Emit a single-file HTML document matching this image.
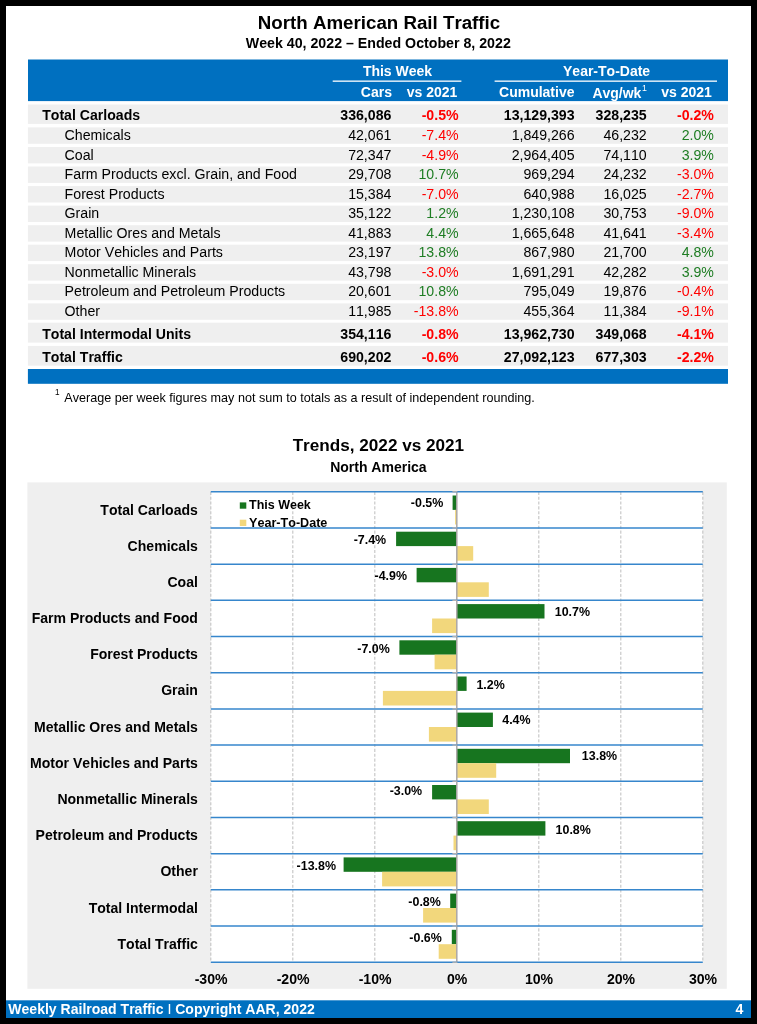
<!DOCTYPE html>
<html><head><meta charset="utf-8"><title>North American Rail Traffic</title>
<style>
html,body{margin:0;padding:0;background:#000;}
body{width:757px;height:1024px;overflow:hidden;}
svg{display:block;font-family:"Liberation Sans",Arial,Helvetica,sans-serif;font-kerning:none;}
text{fill:#000;}
.b{font-weight:bold;}
.e{text-anchor:end;}
.m{text-anchor:middle;}
.w{fill:#fff;}
.n{fill:#ff0000;}
.p{fill:#1e7d23;}
</style></head><body>
<svg width="757" height="1024" viewBox="0 0 757 1024">
<rect x="0" y="0" width="757" height="1024" fill="#000"/>
<rect x="6" y="6" width="745" height="1012" fill="#fff"/>
<text x="379.0" y="28.5" font-size="18.73" class="b m">North American Rail Traffic</text>
<text x="378.3" y="48.2" font-size="14.2" class="b m">Week 40, 2022 – Ended October 8, 2022</text>
<rect x="28.0" y="59.5" width="700.0" height="41.6" fill="#0070c0"/>
<rect x="332.7" y="80.5" width="128.7" height="1.3" fill="#fff"/>
<rect x="494.6" y="80.5" width="222.4" height="1.3" fill="#fff"/>
<text x="397.5" y="75.6" font-size="14.0" class="b m w">This Week</text>
<text x="606.6" y="75.6" font-size="14.0" class="b m w">Year-To-Date</text>
<text x="392.0" y="96.5" font-size="14.0" class="b e w">Cars</text>
<text x="457.4" y="96.5" font-size="14.0" class="b e w">vs 2021</text>
<text x="574.5" y="96.5" font-size="14.0" class="b e w">Cumulative</text>
<text x="641.4" y="97.7" font-size="14.0" class="b e w">Avg/wk</text>
<text x="642.0" y="91.1" font-size="8.8" class="w">1</text>
<text x="711.9" y="96.5" font-size="14.0" class="b e w">vs 2021</text>
<rect x="27.9" y="104.5" width="700.1" height="19.4" fill="#efefef"/>
<text x="42.2" y="120.4" font-size="14.1" class="b">Total Carloads</text>
<text x="391.4" y="120.2" font-size="14.15" class="b e">336,086</text>
<text x="458.6" y="120.2" font-size="14.15" class="b e n">-0.5%</text>
<text x="574.6" y="120.2" font-size="14.15" class="b e">13,129,393</text>
<text x="646.7" y="120.2" font-size="14.15" class="b e">328,235</text>
<text x="713.9" y="120.2" font-size="14.15" class="b e n">-0.2%</text>
<rect x="27.9" y="127.4" width="700.1" height="16.4" fill="#efefef"/>
<text x="64.6" y="139.9" font-size="14.18">Chemicals</text>
<text x="391.4" y="139.9" font-size="14.15" class="e">42,061</text>
<text x="458.6" y="139.9" font-size="14.15" class="e n">-7.4%</text>
<text x="574.6" y="139.9" font-size="14.15" class="e">1,849,266</text>
<text x="646.7" y="139.9" font-size="14.15" class="e">46,232</text>
<text x="713.9" y="139.9" font-size="14.15" class="e p">2.0%</text>
<rect x="27.9" y="147.0" width="700.1" height="16.4" fill="#efefef"/>
<text x="64.6" y="159.5" font-size="14.18">Coal</text>
<text x="391.4" y="159.5" font-size="14.15" class="e">72,347</text>
<text x="458.6" y="159.5" font-size="14.15" class="e n">-4.9%</text>
<text x="574.6" y="159.5" font-size="14.15" class="e">2,964,405</text>
<text x="646.7" y="159.5" font-size="14.15" class="e">74,110</text>
<text x="713.9" y="159.5" font-size="14.15" class="e p">3.9%</text>
<rect x="27.9" y="166.5" width="700.1" height="16.4" fill="#efefef"/>
<text x="64.6" y="179.0" font-size="14.18">Farm Products excl. Grain, and Food</text>
<text x="391.4" y="179.0" font-size="14.15" class="e">29,708</text>
<text x="458.6" y="179.0" font-size="14.15" class="e p">10.7%</text>
<text x="574.6" y="179.0" font-size="14.15" class="e">969,294</text>
<text x="646.7" y="179.0" font-size="14.15" class="e">24,232</text>
<text x="713.9" y="179.0" font-size="14.15" class="e n">-3.0%</text>
<rect x="27.9" y="186.1" width="700.1" height="16.4" fill="#efefef"/>
<text x="64.6" y="198.6" font-size="14.18">Forest Products</text>
<text x="391.4" y="198.6" font-size="14.15" class="e">15,384</text>
<text x="458.6" y="198.6" font-size="14.15" class="e n">-7.0%</text>
<text x="574.6" y="198.6" font-size="14.15" class="e">640,988</text>
<text x="646.7" y="198.6" font-size="14.15" class="e">16,025</text>
<text x="713.9" y="198.6" font-size="14.15" class="e n">-2.7%</text>
<rect x="27.9" y="205.6" width="700.1" height="16.4" fill="#efefef"/>
<text x="64.6" y="218.1" font-size="14.18">Grain</text>
<text x="391.4" y="218.1" font-size="14.15" class="e">35,122</text>
<text x="458.6" y="218.1" font-size="14.15" class="e p">1.2%</text>
<text x="574.6" y="218.1" font-size="14.15" class="e">1,230,108</text>
<text x="646.7" y="218.1" font-size="14.15" class="e">30,753</text>
<text x="713.9" y="218.1" font-size="14.15" class="e n">-9.0%</text>
<rect x="27.9" y="225.2" width="700.1" height="16.4" fill="#efefef"/>
<text x="64.6" y="237.7" font-size="14.18">Metallic Ores and Metals</text>
<text x="391.4" y="237.7" font-size="14.15" class="e">41,883</text>
<text x="458.6" y="237.7" font-size="14.15" class="e p">4.4%</text>
<text x="574.6" y="237.7" font-size="14.15" class="e">1,665,648</text>
<text x="646.7" y="237.7" font-size="14.15" class="e">41,641</text>
<text x="713.9" y="237.7" font-size="14.15" class="e n">-3.4%</text>
<rect x="27.9" y="244.7" width="700.1" height="16.4" fill="#efefef"/>
<text x="64.6" y="257.2" font-size="14.18">Motor Vehicles and Parts</text>
<text x="391.4" y="257.2" font-size="14.15" class="e">23,197</text>
<text x="458.6" y="257.2" font-size="14.15" class="e p">13.8%</text>
<text x="574.6" y="257.2" font-size="14.15" class="e">867,980</text>
<text x="646.7" y="257.2" font-size="14.15" class="e">21,700</text>
<text x="713.9" y="257.2" font-size="14.15" class="e p">4.8%</text>
<rect x="27.9" y="264.2" width="700.1" height="16.4" fill="#efefef"/>
<text x="64.6" y="276.8" font-size="14.18">Nonmetallic Minerals</text>
<text x="391.4" y="276.8" font-size="14.15" class="e">43,798</text>
<text x="458.6" y="276.8" font-size="14.15" class="e n">-3.0%</text>
<text x="574.6" y="276.8" font-size="14.15" class="e">1,691,291</text>
<text x="646.7" y="276.8" font-size="14.15" class="e">42,282</text>
<text x="713.9" y="276.8" font-size="14.15" class="e p">3.9%</text>
<rect x="27.9" y="283.8" width="700.1" height="16.4" fill="#efefef"/>
<text x="64.6" y="296.3" font-size="14.18">Petroleum and Petroleum Products</text>
<text x="391.4" y="296.3" font-size="14.15" class="e">20,601</text>
<text x="458.6" y="296.3" font-size="14.15" class="e p">10.8%</text>
<text x="574.6" y="296.3" font-size="14.15" class="e">795,049</text>
<text x="646.7" y="296.3" font-size="14.15" class="e">19,876</text>
<text x="713.9" y="296.3" font-size="14.15" class="e n">-0.4%</text>
<rect x="27.9" y="303.4" width="700.1" height="16.4" fill="#efefef"/>
<text x="64.6" y="315.9" font-size="14.18">Other</text>
<text x="391.4" y="315.9" font-size="14.15" class="e">11,985</text>
<text x="458.6" y="315.9" font-size="14.15" class="e n">-13.8%</text>
<text x="574.6" y="315.9" font-size="14.15" class="e">455,364</text>
<text x="646.7" y="315.9" font-size="14.15" class="e">11,384</text>
<text x="713.9" y="315.9" font-size="14.15" class="e n">-9.1%</text>
<rect x="27.9" y="322.7" width="700.1" height="19.9" fill="#efefef"/>
<text x="42.2" y="339.1" font-size="14.1" class="b">Total Intermodal Units</text>
<text x="391.4" y="338.9" font-size="14.15" class="b e">354,116</text>
<text x="458.6" y="338.9" font-size="14.15" class="b e n">-0.8%</text>
<text x="574.6" y="338.9" font-size="14.15" class="b e">13,962,730</text>
<text x="646.7" y="338.9" font-size="14.15" class="b e">349,068</text>
<text x="713.9" y="338.9" font-size="14.15" class="b e n">-4.1%</text>
<rect x="27.9" y="345.9" width="700.1" height="19.8" fill="#efefef"/>
<text x="42.2" y="362.1" font-size="14.1" class="b">Total Traffic</text>
<text x="391.4" y="361.9" font-size="14.15" class="b e">690,202</text>
<text x="458.6" y="361.9" font-size="14.15" class="b e n">-0.6%</text>
<text x="574.6" y="361.9" font-size="14.15" class="b e">27,092,123</text>
<text x="646.7" y="361.9" font-size="14.15" class="b e">677,303</text>
<text x="713.9" y="361.9" font-size="14.15" class="b e n">-2.2%</text>
<rect x="27.9" y="369.0" width="700.1" height="14.8" fill="#0070c0"/>
<text x="55.1" y="395.4" font-size="8.2">1</text>
<text x="64.3" y="401.5" font-size="12.6">Average per week figures may not sum to totals as a result of independent rounding.</text>
<text x="378.4" y="451.4" font-size="17.15" class="b m">Trends, 2022 vs 2021</text>
<text x="378.4" y="471.8" font-size="14.0" class="b m">North America</text>
<rect x="27.4" y="482.4" width="699.4" height="506.4" fill="#efefef"/>
<rect x="210.8" y="491.8" width="492.0" height="470.5" fill="#fff"/>
<line x1="210.8" y1="491.8" x2="210.8" y2="962.2" stroke="#c4c4c4" stroke-width="1.1" stroke-dasharray="3.1,1.75"/>
<line x1="292.8" y1="491.8" x2="292.8" y2="962.2" stroke="#c4c4c4" stroke-width="1.1" stroke-dasharray="3.1,1.75"/>
<line x1="374.8" y1="491.8" x2="374.8" y2="962.2" stroke="#c4c4c4" stroke-width="1.1" stroke-dasharray="3.1,1.75"/>
<line x1="538.8" y1="491.8" x2="538.8" y2="962.2" stroke="#c4c4c4" stroke-width="1.1" stroke-dasharray="3.1,1.75"/>
<line x1="620.8" y1="491.8" x2="620.8" y2="962.2" stroke="#c4c4c4" stroke-width="1.1" stroke-dasharray="3.1,1.75"/>
<line x1="702.8" y1="491.8" x2="702.8" y2="962.2" stroke="#c4c4c4" stroke-width="1.1" stroke-dasharray="3.1,1.75"/>
<rect x="239.8" y="502.4" width="6.5" height="6.3" fill="#17751f"/>
<rect x="239.8" y="519.7" width="6.5" height="6.3" fill="#f2d77c"/>
<text x="249.0" y="509.4" font-size="12.5" class="b">This Week</text>
<text x="249.0" y="526.8" font-size="12.6" class="b">Year-To-Date</text>
<rect x="452.6" y="495.5" width="4.1" height="14.4" fill="#17751f"/>
<rect x="455.1" y="509.9" width="1.6" height="14.6" fill="#f2d77c"/>
<rect x="396.1" y="531.7" width="60.7" height="14.4" fill="#17751f"/>
<rect x="456.8" y="546.1" width="16.4" height="14.6" fill="#f2d77c"/>
<rect x="416.6" y="567.9" width="40.2" height="14.4" fill="#17751f"/>
<rect x="456.8" y="582.3" width="32.0" height="14.6" fill="#f2d77c"/>
<rect x="456.8" y="604.1" width="87.7" height="14.4" fill="#17751f"/>
<rect x="432.1" y="618.5" width="24.6" height="14.6" fill="#f2d77c"/>
<rect x="399.4" y="640.3" width="57.4" height="14.4" fill="#17751f"/>
<rect x="434.6" y="654.7" width="22.1" height="14.6" fill="#f2d77c"/>
<rect x="456.8" y="676.5" width="9.8" height="14.4" fill="#17751f"/>
<rect x="382.9" y="690.9" width="73.8" height="14.6" fill="#f2d77c"/>
<rect x="456.8" y="712.6" width="36.1" height="14.4" fill="#17751f"/>
<rect x="428.9" y="727.0" width="27.9" height="14.6" fill="#f2d77c"/>
<rect x="456.8" y="748.8" width="113.2" height="14.4" fill="#17751f"/>
<rect x="456.8" y="763.2" width="39.4" height="14.6" fill="#f2d77c"/>
<rect x="432.1" y="785.0" width="24.6" height="14.4" fill="#17751f"/>
<rect x="456.8" y="799.4" width="32.0" height="14.6" fill="#f2d77c"/>
<rect x="456.8" y="821.2" width="88.6" height="14.4" fill="#17751f"/>
<rect x="453.5" y="835.6" width="3.3" height="14.6" fill="#f2d77c"/>
<rect x="343.6" y="857.4" width="113.2" height="14.4" fill="#17751f"/>
<rect x="382.1" y="871.8" width="74.6" height="14.6" fill="#f2d77c"/>
<rect x="450.2" y="893.6" width="6.6" height="14.4" fill="#17751f"/>
<rect x="423.1" y="908.0" width="33.6" height="14.6" fill="#f2d77c"/>
<rect x="451.8" y="929.8" width="4.9" height="14.4" fill="#17751f"/>
<rect x="438.7" y="944.2" width="18.0" height="14.6" fill="#f2d77c"/>
<line x1="456.8" y1="491.8" x2="456.8" y2="962.2" stroke="#aaa6a6" stroke-width="1.5"/>
<line x1="210.8" y1="491.75" x2="702.8" y2="491.75" stroke="#3686cc" stroke-width="1.5"/>
<line x1="452.4" y1="491.75" x2="457.4" y2="491.75" stroke="#b5b2b2" stroke-width="1.3"/>
<line x1="210.8" y1="527.94" x2="702.8" y2="527.94" stroke="#3686cc" stroke-width="1.5"/>
<line x1="452.4" y1="527.94" x2="457.4" y2="527.94" stroke="#b5b2b2" stroke-width="1.3"/>
<line x1="210.8" y1="564.13" x2="702.8" y2="564.13" stroke="#3686cc" stroke-width="1.5"/>
<line x1="452.4" y1="564.13" x2="457.4" y2="564.13" stroke="#b5b2b2" stroke-width="1.3"/>
<line x1="210.8" y1="600.32" x2="702.8" y2="600.32" stroke="#3686cc" stroke-width="1.5"/>
<line x1="452.4" y1="600.32" x2="457.4" y2="600.32" stroke="#b5b2b2" stroke-width="1.3"/>
<line x1="210.8" y1="636.51" x2="702.8" y2="636.51" stroke="#3686cc" stroke-width="1.5"/>
<line x1="452.4" y1="636.51" x2="457.4" y2="636.51" stroke="#b5b2b2" stroke-width="1.3"/>
<line x1="210.8" y1="672.70" x2="702.8" y2="672.70" stroke="#3686cc" stroke-width="1.5"/>
<line x1="452.4" y1="672.70" x2="457.4" y2="672.70" stroke="#b5b2b2" stroke-width="1.3"/>
<line x1="210.8" y1="708.89" x2="702.8" y2="708.89" stroke="#3686cc" stroke-width="1.5"/>
<line x1="452.4" y1="708.89" x2="457.4" y2="708.89" stroke="#b5b2b2" stroke-width="1.3"/>
<line x1="210.8" y1="745.08" x2="702.8" y2="745.08" stroke="#3686cc" stroke-width="1.5"/>
<line x1="452.4" y1="745.08" x2="457.4" y2="745.08" stroke="#b5b2b2" stroke-width="1.3"/>
<line x1="210.8" y1="781.27" x2="702.8" y2="781.27" stroke="#3686cc" stroke-width="1.5"/>
<line x1="452.4" y1="781.27" x2="457.4" y2="781.27" stroke="#b5b2b2" stroke-width="1.3"/>
<line x1="210.8" y1="817.46" x2="702.8" y2="817.46" stroke="#3686cc" stroke-width="1.5"/>
<line x1="452.4" y1="817.46" x2="457.4" y2="817.46" stroke="#b5b2b2" stroke-width="1.3"/>
<line x1="210.8" y1="853.65" x2="702.8" y2="853.65" stroke="#3686cc" stroke-width="1.5"/>
<line x1="452.4" y1="853.65" x2="457.4" y2="853.65" stroke="#b5b2b2" stroke-width="1.3"/>
<line x1="210.8" y1="889.84" x2="702.8" y2="889.84" stroke="#3686cc" stroke-width="1.5"/>
<line x1="452.4" y1="889.84" x2="457.4" y2="889.84" stroke="#b5b2b2" stroke-width="1.3"/>
<line x1="210.8" y1="926.03" x2="702.8" y2="926.03" stroke="#3686cc" stroke-width="1.5"/>
<line x1="452.4" y1="926.03" x2="457.4" y2="926.03" stroke="#b5b2b2" stroke-width="1.3"/>
<line x1="210.8" y1="962.22" x2="702.8" y2="962.22" stroke="#3686cc" stroke-width="1.5"/>
<line x1="452.4" y1="962.22" x2="457.4" y2="962.22" stroke="#b5b2b2" stroke-width="1.3"/>
<text x="197.9" y="514.5" font-size="14.05" class="b e">Total Carloads</text>
<text x="427.1" y="507.3" font-size="12.45" class="b m">-0.5%</text>
<text x="197.9" y="550.6" font-size="14.05" class="b e">Chemicals</text>
<text x="369.9" y="543.5" font-size="12.45" class="b m">-7.4%</text>
<text x="197.9" y="586.8" font-size="14.05" class="b e">Coal</text>
<text x="390.8" y="579.6" font-size="12.45" class="b m">-4.9%</text>
<text x="197.9" y="623.0" font-size="14.05" class="b e">Farm Products and Food</text>
<text x="572.4" y="616.2" font-size="12.45" class="b m">10.7%</text>
<text x="197.9" y="659.2" font-size="14.05" class="b e">Forest Products</text>
<text x="373.5" y="652.7" font-size="12.45" class="b m">-7.0%</text>
<text x="197.9" y="695.4" font-size="14.05" class="b e">Grain</text>
<text x="490.6" y="688.8" font-size="12.45" class="b m">1.2%</text>
<text x="197.9" y="731.6" font-size="14.05" class="b e">Metallic Ores and Metals</text>
<text x="516.4" y="724.4" font-size="12.45" class="b m">4.4%</text>
<text x="197.9" y="767.8" font-size="14.05" class="b e">Motor Vehicles and Parts</text>
<text x="599.5" y="759.6" font-size="12.45" class="b m">13.8%</text>
<text x="197.9" y="804.0" font-size="14.05" class="b e">Nonmetallic Minerals</text>
<text x="405.9" y="795.4" font-size="12.45" class="b m">-3.0%</text>
<text x="197.9" y="840.2" font-size="14.05" class="b e">Petroleum and Products</text>
<text x="573.2" y="833.8" font-size="12.45" class="b m">10.8%</text>
<text x="197.9" y="876.4" font-size="14.05" class="b e">Other</text>
<text x="316.3" y="869.7" font-size="12.45" class="b m">-13.8%</text>
<text x="197.9" y="912.5" font-size="14.05" class="b e">Total Intermodal</text>
<text x="424.6" y="906.0" font-size="12.45" class="b m">-0.8%</text>
<text x="197.9" y="948.7" font-size="14.05" class="b e">Total Traffic</text>
<text x="425.6" y="942.3" font-size="12.45" class="b m">-0.6%</text>
<text x="211.1" y="983.5" font-size="14.1" class="b m">-30%</text>
<text x="293.1" y="983.5" font-size="14.1" class="b m">-20%</text>
<text x="375.1" y="983.5" font-size="14.1" class="b m">-10%</text>
<text x="457.1" y="983.5" font-size="14.1" class="b m">0%</text>
<text x="539.0" y="983.5" font-size="14.1" class="b m">10%</text>
<text x="621.0" y="983.5" font-size="14.1" class="b m">20%</text>
<text x="703.0" y="983.5" font-size="14.1" class="b m">30%</text>
<rect x="6.0" y="1000.3" width="745.0" height="17.7" fill="#0070c0"/>
<text x="8.3" y="1013.9" font-size="14.04" class="b w">Weekly Railroad Traffic <tspan font-size="10.6" dy="-2.1" dx="0.5">|</tspan><tspan dy="2.1" dx="0.45"> Copyright AAR, 2022</tspan></text>
<text x="743.3" y="1013.9" font-size="14.1" class="b e w">4</text>
</svg></body></html>
